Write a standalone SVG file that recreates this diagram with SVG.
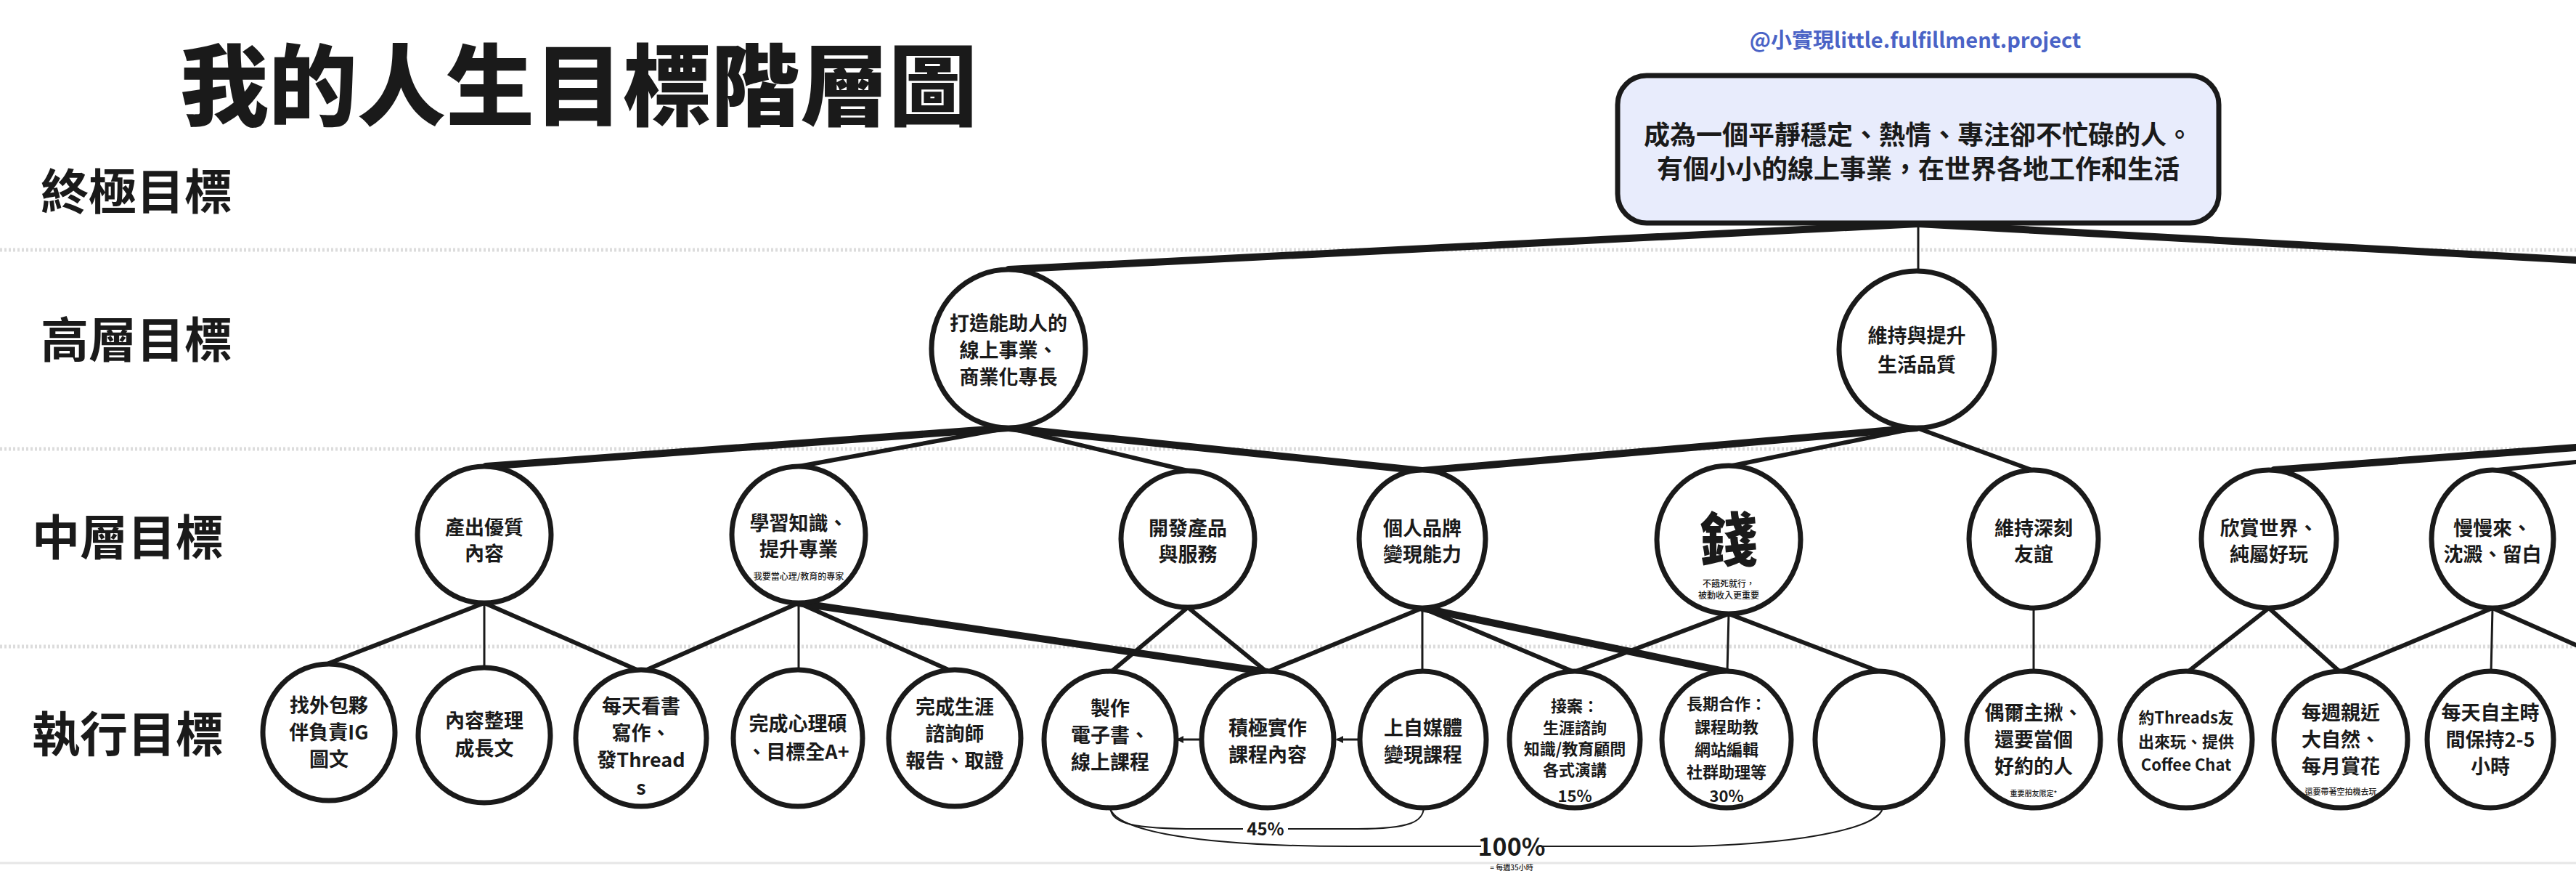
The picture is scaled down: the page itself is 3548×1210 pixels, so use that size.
<svg xmlns="http://www.w3.org/2000/svg" width="3548" height="1210" viewBox="0 0 3548 1210">
<defs>
<style>
text{font-family:"Noto Sans CJK TC","Noto Sans",sans-serif;font-weight:700;fill:#1a1a1a;text-anchor:middle}
.lbl{font-size:66px;text-anchor:start}
.n{fill:#fff;stroke:#1a1a1a;stroke-width:7}
.t{font-size:27px}
.s{font-size:22px}
.xs{font-size:12px;font-weight:500}
.c{fill:none;stroke:#1a1a1a;stroke-linecap:round}
.k{stroke-width:10}
.m{stroke-width:6}
.th{stroke-width:3}
.sep{stroke:#dcdcdc;stroke-width:5;stroke-dasharray:3 3}
</style>
<marker id="ah" markerWidth="10" markerHeight="10" refX="8" refY="5" orient="auto" markerUnits="userSpaceOnUse"><path d="M0,0 L10,5 L0,10 z" fill="#1a1a1a"/></marker>
<clipPath id="cp3"><ellipse cx="883" cy="1016" rx="86" ry="90"/></clipPath>
</defs>
<rect width="3548" height="1210" fill="#fff"/>
<g id="separators">
<line class="sep" x1="0" y1="344" x2="3548" y2="344"/>
<line class="sep" x1="0" y1="618" x2="3548" y2="618"/>
<line class="sep" x1="0" y1="890" x2="3548" y2="890"/>
<line x1="0" y1="1188" x2="3548" y2="1188" stroke="#e6e6e6" stroke-width="3"/>
</g>
<g id="title"><text x="797" y="163" style="font-size:122px;font-weight:900">我的人生目標階層圖</text></g>
<text x="2638" y="66" style="font-size:29px;fill:#4a63c6">@小實現little.fulfillment.project</text>
<g id="labels">
<text class="lbl" x="56" y="288">終極目標</text>
<text class="lbl" x="56" y="492">高層目標</text>
<text class="lbl" x="44" y="764">中層目標</text>
<text class="lbl" x="44" y="1035">執行目標</text>
</g>
<g id="connectors">
<line class="c k" x1="2642" y1="308" x2="1389" y2="371"/>
<line class="c k" x1="2642" y1="308" x2="3548" y2="358"/>
<line class="c th" x1="2642" y1="308" x2="2642" y2="373"/>
<line class="c k" x1="1389" y1="589" x2="669" y2="642"/>
<line class="c m" x1="1389" y1="589" x2="1100" y2="642"/>
<line class="c m" x1="1389" y1="589" x2="1636" y2="648"/>
<line class="c k" x1="1389" y1="589" x2="1959" y2="648"/>
<line class="c k" x1="2640" y1="589" x2="1959" y2="648"/>
<line class="c m" x1="2640" y1="589" x2="2381" y2="642"/>
<line class="c m" x1="2640" y1="589" x2="2801" y2="648"/>
<line class="c k" x1="3548" y1="616" x2="3132" y2="647"/>
<line class="c m" x1="3548" y1="636" x2="3439" y2="647"/>
<line class="c m" x1="667" y1="830" x2="453" y2="913"/>
<line class="c th" x1="667" y1="830" x2="667" y2="920"/>
<line class="c m" x1="667" y1="830" x2="884" y2="925"/>
<line class="c m" x1="1100" y1="830" x2="884" y2="925"/>
<line class="c th" x1="1100" y1="830" x2="1100" y2="925"/>
<line class="c m" x1="1100" y1="830" x2="1313" y2="925"/>
<line class="c k" x1="1100" y1="830" x2="1745" y2="925"/>
<line class="c m" x1="1636" y1="836" x2="1530" y2="925"/>
<line class="c m" x1="1636" y1="836" x2="1745" y2="925"/>
<line class="c m" x1="1959" y1="837" x2="1745" y2="925"/>
<line class="c th" x1="1959" y1="837" x2="1959" y2="925"/>
<line class="c m" x1="1959" y1="837" x2="2168" y2="925"/>
<line class="c k" x1="1959" y1="837" x2="2379" y2="925"/>
<line class="c m" x1="2381" y1="845" x2="2168" y2="925"/>
<line class="c th" x1="2381" y1="845" x2="2379" y2="925"/>
<line class="c m" x1="2381" y1="845" x2="2590" y2="925"/>
<line class="c th" x1="2801" y1="837" x2="2801" y2="925"/>
<line class="c m" x1="3125" y1="837" x2="3013" y2="925"/>
<line class="c m" x1="3125" y1="837" x2="3223" y2="925"/>
<line class="c m" x1="3433" y1="837" x2="3223" y2="925"/>
<line class="c th" x1="3433" y1="837" x2="3431" y2="925"/>
<line class="c m" x1="3433" y1="837" x2="3548" y2="888"/>
<line class="c th" x1="1653" y1="1018" x2="1622" y2="1018" marker-end="url(#ah)"/>
<line class="c th" x1="1872" y1="1018" x2="1842" y2="1018" marker-end="url(#ah)"/>
<path class="c" stroke-width="2" d="M1529,1112 C1532,1134 1560,1141 1650,1141 L1870,1141 C1945,1141 1960,1130 1961,1112"/>
<path class="c" stroke-width="2" d="M1529,1112 C1536,1142 1640,1165 1860,1165 L2330,1165 C2510,1160 2590,1135 2593,1112"/>
<rect x="1712" y="1126" width="62" height="30" fill="#fff"/>
<text x="1743" y="1150" style="font-size:24px">45%</text>
<rect x="2040" y="1148" width="84" height="34" fill="#fff"/>
<text x="2082" y="1178" style="font-size:34px">100%</text>
<text class="xs" x="2082" y="1198" style="font-size:10px">= 每週35小時</text>
</g>
<g id="n-top">
<rect x="2228" y="104" width="828" height="203" rx="40" fill="#e8ecfc" stroke="#1a1a1a" stroke-width="7"/>
<text x="2642" y="199" style="font-size:36px">成為一個平靜穩定、熱情、專注卻不忙碌的人。</text>
<text x="2642" y="246" style="font-size:36px">有個小小的線上事業，在世界各地工作和生活</text>
</g>
<g id="n-h1"><ellipse class="n" cx="1389" cy="480" rx="106" ry="109"/>
<text class="t" x="1389" y="455">打造能助人的</text><text class="t" x="1389" y="492">線上事業、</text><text class="t" x="1389" y="529">商業化專長</text></g>
<g id="n-h2"><ellipse class="n" cx="2640" cy="481" rx="107" ry="108"/>
<text class="t" x="2640" y="472">維持與提升</text><text class="t" x="2640" y="512">生活品質</text></g>
<g id="n-m1"><ellipse class="n" cx="667" cy="736" rx="92" ry="94"/>
<text class="t" x="667" y="736">產出優質</text><text class="t" x="667" y="772">內容</text></g>
<g id="n-m2"><ellipse class="n" cx="1100" cy="736" rx="92" ry="94"/>
<text class="t" x="1100" y="730">學習知識、</text><text class="t" x="1100" y="766">提升專業</text><text class="xs" x="1100" y="798">我要當心理/教育的專家</text></g>
<g id="n-m3"><ellipse class="n" cx="1636" cy="742" rx="92" ry="94"/>
<text class="t" x="1636" y="737">開發產品</text><text class="t" x="1636" y="773">與服務</text></g>
<g id="n-m4"><ellipse class="n" cx="1959" cy="742" rx="87" ry="95"/>
<text class="t" x="1959" y="737">個人品牌</text><text class="t" x="1959" y="773">變現能力</text></g>
<g id="n-m5"><ellipse class="n" cx="2381" cy="743" rx="99" ry="102"/>
<text x="2381" y="772" style="font-size:80px;font-weight:900">錢</text><text class="xs" x="2381" y="808">不餓死就行，</text><text class="xs" x="2381" y="824">被動收入更重要</text></g>
<g id="n-m6"><ellipse class="n" cx="2801" cy="742" rx="89" ry="95"/>
<text class="t" x="2801" y="737">維持深刻</text><text class="t" x="2801" y="773">友誼</text></g>
<g id="n-m7"><ellipse class="n" cx="3125" cy="742" rx="93" ry="95"/>
<text class="t" x="3125" y="737">欣賞世界、</text><text class="t" x="3125" y="773">純屬好玩</text></g>
<g id="n-m8"><ellipse class="n" cx="3433" cy="742" rx="84" ry="95"/>
<text class="t" x="3433" y="737">慢慢來、</text><text class="t" x="3433" y="773">沈澱、留白</text></g>
<g id="n-e1"><ellipse class="n" cx="453" cy="1008" rx="91" ry="94"/>
<text class="t" x="453" y="981">找外包夥</text><text class="t" x="453" y="1018">伴負責IG</text><text class="t" x="453" y="1055">圖文</text></g>
<g id="n-e2"><ellipse class="n" cx="667" cy="1012" rx="91" ry="93"/>
<text class="t" x="667" y="1002">內容整理</text><text class="t" x="667" y="1040">成長文</text></g>
<g id="n-e3"><ellipse class="n" cx="883" cy="1016" rx="90" ry="94"/>
<text class="t" x="883" y="982">每天看書</text><text class="t" x="883" y="1019">寫作、</text><text class="t" x="883" y="1056">發Thread</text><text class="t" x="883" y="1094" clip-path="url(#cp3)">s</text></g>
<g id="n-e4"><ellipse class="n" cx="1099" cy="1016" rx="89" ry="94"/>
<text class="t" x="1099" y="1006">完成心理碩</text><text class="t" x="1099" y="1045">、目標全A+</text></g>
<g id="n-e5"><ellipse class="n" cx="1315" cy="1016" rx="91" ry="94"/>
<text class="t" x="1315" y="983">完成生涯</text><text class="t" x="1315" y="1020">諮詢師</text><text class="t" x="1315" y="1057">報告、取證</text></g>
<g id="n-e6"><ellipse class="n" cx="1529" cy="1018" rx="91" ry="94"/>
<text class="t" x="1529" y="985">製作</text><text class="t" x="1529" y="1022">電子書、</text><text class="t" x="1529" y="1059">線上課程</text></g>
<g id="n-e7"><ellipse class="n" cx="1746" cy="1018" rx="91" ry="94"/>
<text class="t" x="1746" y="1012">積極實作</text><text class="t" x="1746" y="1049">課程內容</text></g>
<g id="n-e8"><ellipse class="n" cx="1960" cy="1018" rx="87" ry="94"/>
<text class="t" x="1960" y="1012">上自媒體</text><text class="t" x="1960" y="1049">變現課程</text></g>
<g id="n-e9"><ellipse class="n" cx="2169" cy="1018" rx="90" ry="94"/>
<text class="s" x="2169" y="980">接案：</text><text class="s" x="2169" y="1010">生涯諮詢</text><text class="s" x="2169" y="1039">知識/教育顧問</text><text class="s" x="2169" y="1068">各式演講</text><text class="s" x="2169" y="1104">15%</text></g>
<g id="n-e10"><ellipse class="n" cx="2378" cy="1018" rx="89" ry="94"/>
<text class="s" x="2378" y="977">長期合作：</text><text class="s" x="2378" y="1009">課程助教</text><text class="s" x="2378" y="1040">網站編輯</text><text class="s" x="2378" y="1071">社群助理等</text><text class="s" x="2378" y="1104">30%</text></g>
<g id="n-e11"><ellipse class="n" cx="2588" cy="1018" rx="88" ry="94"/></g>
<g id="n-e12"><ellipse class="n" cx="2801" cy="1018" rx="92" ry="94"/>
<text class="t" x="2801" y="991">偶爾主揪、</text><text class="t" x="2801" y="1028">還要當個</text><text class="t" x="2801" y="1065">好約的人</text><text class="xs" x="2801" y="1096" style="font-size:10px">重要朋友限定*</text></g>
<g id="n-e13"><ellipse class="n" cx="3011" cy="1018" rx="91" ry="94"/>
<text class="s" x="3011" y="996">約Threads友</text><text class="s" x="3011" y="1029">出來玩、提供</text><text class="s" x="3011" y="1061">Coffee Chat</text></g>
<g id="n-e14"><ellipse class="n" cx="3224" cy="1018" rx="92" ry="94"/>
<text class="t" x="3224" y="991">每週親近</text><text class="t" x="3224" y="1028">大自然、</text><text class="t" x="3224" y="1065">每月賞花</text><text class="xs" x="3224" y="1094" style="font-size:11px">還要帶著空拍機去玩</text></g>
<g id="n-e15"><ellipse class="n" cx="3430" cy="1018" rx="87" ry="94"/>
<text class="t" x="3430" y="991">每天自主時</text><text class="t" x="3430" y="1028">間保持2-5</text><text class="t" x="3430" y="1065">小時</text></g>
</svg>
